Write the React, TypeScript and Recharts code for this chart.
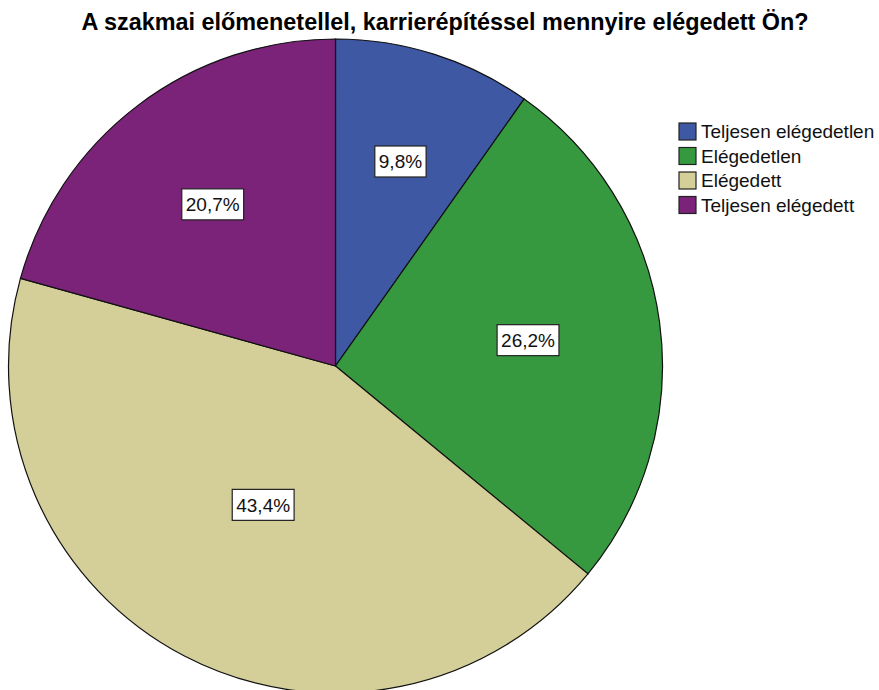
import { PieChart, Pie, Cell, Legend } from 'recharts';

const categories = ['Teljesen elégedetlen', 'Elégedetlen', 'Elégedett', 'Teljesen elégedett'];
const shares = [9.8, 26.2, 43.4, 20.7];
const colors = ['#3e58a4', '#37993f', '#d4ce98', '#7b2378'];

const data = categories.map((name, i) => ({ name, value: shares[i] }));

const total = shares.reduce((a, b) => a + b, 0);

const RAD = Math.PI / 180;
const FONT = 'Liberation Sans, Arial, sans-serif';

// rough Arial advance widths, used to size the label boxes
const charW = (ch: string) => (ch === ',' ? 0.278 : ch === '%' ? 0.889 : 0.556);

// SPSS-style labels: boxed, near the centroid of each slice
const renderLabel = (props: any) => {
	const { cx, cy, midAngle, outerRadius, value } = props;
	const sweep = (value / total) * 2 * Math.PI;
	const r = (4 * outerRadius * Math.sin(sweep / 2)) / (3 * sweep);
	const x = cx + r * Math.cos(-midAngle * RAD);
	const y = cy + r * Math.sin(-midAngle * RAD);
	const text = value.toFixed(1).replace('.', ',') + '%';
	const fs = 19;
	const w = text.split('').reduce((s, c) => s + charW(c), 0) * fs + 8;
	return (
		<g>
			<rect x={x - w / 2} y={y - 15.5} width={w} height={31} fill='#fff' stroke='#222' strokeWidth={1.2} />
			<text x={x} y={y + 7} textAnchor='middle' fontSize={fs} fill='#111' fontFamily={FONT}>
				{text}
			</text>
		</g>
	);
};

const renderLegend = () => (
	<svg width={210} height={110}>
		{categories.map((c, i) => (
			<g key={c}>
				<rect x={1} y={i * 24.5 + 1} width={17} height={17} fill={colors[i]} stroke='#222' strokeWidth={1.2} />
				<text x={23} y={i * 24.5 + 16} fontSize={19} fill='#111' fontFamily={FONT}>
					{c}
				</text>
			</g>
		))}
	</svg>
);

const App = () => {
	return (
		<div style={{ position: 'absolute', left: 0, top: 0, width: 879, height: 690, background: '#fff' }}>
			<div
				style={{
					position: 'absolute',
					left: 0,
					top: 9,
					width: 890,
					textAlign: 'center',
					fontFamily: FONT,
					fontWeight: 'bold',
					fontSize: 23.4,
					color: '#000',
					zIndex: 2,
				}}>
				A szakmai előmenetellel, karrierépítéssel mennyire elégedett Ön?
			</div>
			<PieChart width={879} height={690} margin={{ top: 0, right: 0, bottom: 0, left: 0 }}>
				<Pie
					data={data}
					dataKey='value'
					nameKey='name'
					cx={335.5}
					cy={366}
					outerRadius={327}
					startAngle={90}
					endAngle={-270}
					stroke='#111'
					strokeWidth={1.2}
					label={renderLabel}
					labelLine={false}
					isAnimationActive={false}>
					{data.map((d, i) => (
						<Cell key={d.name} fill={colors[i]} />
					))}
				</Pie>
				<Legend
					content={renderLegend}
					wrapperStyle={{ position: 'absolute', left: 678, top: 122, width: 210, height: 110 }}
				/>
			</PieChart>
		</div>
	);
};

export default App;
